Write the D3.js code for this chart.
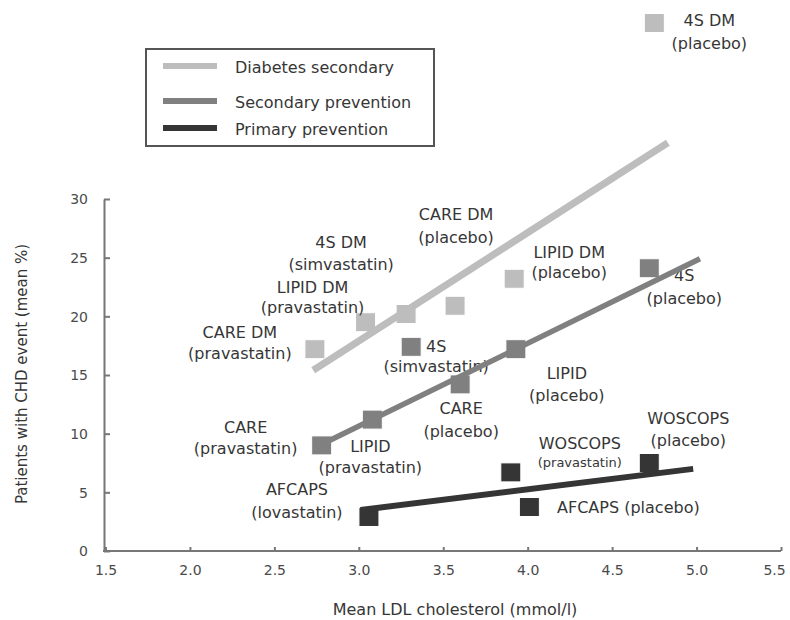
<!DOCTYPE html>
<html>
<head>
<meta charset="utf-8">
<script src="https://cdn.jsdelivr.net/npm/d3@7"></script>
<style>
  body { margin: 0; background: #fff; }
  svg { display: block; font-family: "DejaVu Sans", sans-serif; }
</style>
</head>
<body>
<svg id="chart" width="790" height="620"></svg>
<script>
// trial arms, one entry per square
var trialNames = ["CARE DM", "LIPID DM", "4S DM", "CARE DM", "LIPID DM", "4S DM",
                  "CARE", "LIPID", "CARE", "4S", "LIPID", "4S",
                  "AFCAPS", "WOSCOPS", "AFCAPS", "WOSCOPS"];
var trialArms = ["(pravastatin)", "(pravastatin)", "(simvastatin)", "(placebo)", "(placebo)", "(placebo)",
                 "(pravastatin)", "(pravastatin)", "(placebo)", "(simvastatin)", "(placebo)", "(placebo)",
                 "(lovastatin)", "(pravastatin)", "(placebo)", "(placebo)"];
var trialGroup = [0, 0, 0, 0, 0, 0, 1, 1, 1, 1, 1, 1, 2, 2, 2, 2];
var ldlValues = [2.74, 3.04, 3.28, 3.57, 3.92, 4.75,
                 2.78, 3.08, 3.60, 3.31, 3.93, 4.72,
                 3.06, 3.90, 4.01, 4.72];
var chdValues = [17.2, 19.5, 20.2, 20.9, 23.2, 45.0,
                 9.0, 11.2, 14.2, 17.4, 17.2, 24.1,
                 2.9, 6.7, 3.75, 7.5];

// fitted lines per group
var groupNames = ["Diabetes secondary", "Secondary prevention", "Primary prevention"];
var fitLdlStart = [2.73, 2.76, 3.01];
var fitLdlEnd = [4.83, 5.02, 4.98];
var fitChdStart = [15.4, 8.95, 3.5];
var fitChdEnd = [34.8, 24.9, 7.0];

var xTicks = [1.5, 2.0, 2.5, 3.0, 3.5, 4.0, 4.5, 5.0, 5.5];
var yTicks = [0, 5, 10, 15, 20, 25, 30];

// styles
var groupColors = ["#bdbdbd", "#808080", "#353535"];
var groupWidths = [7, 5.5, 6];
var textColor = "#363636";

// label placement: center offset from the square (px), second line offset, single line flag
var labelLayout = [
  {dx: -75, dy1: -17, dy2: 4},
  {dx: -53, dy1: -35, dy2: -15},
  {dx: -65, dy1: -71, dy2: -49},
  {dx: 1, dy1: -91, dy2: -68},
  {dx: 55, dy1: -26, dy2: -6},
  {dx: 55, dy1: -3, dy2: 20},
  {dx: -76, dy1: -18, dy2: 3},
  {dx: -2, dy1: 27, dy2: 48},
  {dx: 1, dy1: 24, dy2: 47},
  {dx: 25, dy1: 0, dy2: 20},
  {dx: 51, dy1: 24, dy2: 46},
  {dx: 35, dy1: 7, dy2: 30},
  {dx: -72, dy1: -27, dy2: -4},
  {dx: 69, dy1: -29, dy2: -10, small: true},
  {dx: 99, dy1: 0, single: true},
  {dx: 39, dy1: -45, dy2: -23}
];

var svg = d3.select("#chart");

var x = d3.scaleLinear().domain([1.5, 5.5]).range([105.5, 781]);
var y = d3.scaleLinear().domain([0, 30]).range([551, 199]);

// axes
var xAxis = svg.append("g")
  .attr("transform", "translate(0,551)")
  .call(d3.axisBottom(x).tickValues(xTicks).tickFormat(d3.format(".1f")).tickSizeInner(-4).tickSizeOuter(0));
var yAxis = svg.append("g")
  .attr("transform", "translate(104,0)")
  .call(d3.axisLeft(y).tickValues(yTicks).tickSizeInner(-6).tickSizeOuter(0));

[xAxis, yAxis].forEach(function(ax) {
  ax.select(".domain").attr("stroke", "#777").attr("stroke-width", 2);
  ax.selectAll(".tick line").attr("stroke", "#777").attr("stroke-width", 2);
  ax.selectAll(".tick text").attr("fill", "#4a4a4a").style("font-size", "14px").style("font-family", "DejaVu Sans");
});
xAxis.select(".domain").attr("d", "M103,0H781");
xAxis.selectAll(".tick text").attr("y", 19).attr("dy", "0.35em")
  .attr("dx", function(d) { return d === 5.5 ? -7 : 0; });
yAxis.selectAll(".tick text").attr("x", -16).attr("dy", "0.35em");

svg.append("text")
  .attr("x", 455).attr("y", 609)
  .attr("text-anchor", "middle").attr("dominant-baseline", "central")
  .attr("fill", textColor).style("font-size", "16px")
  .text("Mean LDL cholesterol (mmol/l)");

svg.append("text")
  .attr("transform", "translate(22,374) rotate(-90)")
  .attr("text-anchor", "middle").attr("dominant-baseline", "central")
  .attr("fill", textColor).style("font-size", "15px")
  .text("Patients with CHD event (mean %)");

// squares
var idx = d3.range(ldlValues.length);
svg.append("g").selectAll("rect")
  .data(idx)
  .enter().append("rect")
  .attr("x", function(i) { return x(ldlValues[i]) - 10; })
  .attr("y", function(i) { return y(chdValues[i]) - 9.5; })
  .attr("width", 20)
  .attr("height", 19)
  .attr("fill", function(i) { return groupColors[trialGroup[i]]; })
  .attr("stroke", "#fff")
  .attr("stroke-width", 1);

// labels
var labels = svg.append("g").attr("fill", textColor).style("font-size", "16px")
  .attr("text-anchor", "middle");
idx.forEach(function(i) {
  var L = labelLayout[i];
  var cx = x(ldlValues[i]) + L.dx;
  var cy = y(chdValues[i]);
  if (L.single) {
    labels.append("text").attr("x", cx).attr("y", cy + L.dy1)
      .attr("dominant-baseline", "central")
      .text(trialNames[i] + " " + trialArms[i]);
    return;
  }
  labels.append("text").attr("x", cx).attr("y", cy + L.dy1)
    .attr("dominant-baseline", "central").text(trialNames[i]);
  labels.append("text").attr("x", cx).attr("y", cy + L.dy2)
    .attr("dominant-baseline", "central")
    .style("font-size", L.small ? "13px" : null)
    .text(trialArms[i]);
});

// fitted lines
svg.append("g").selectAll("line")
  .data(d3.range(groupNames.length))
  .enter().append("line")
  .attr("x1", function(g) { return x(fitLdlStart[g]); })
  .attr("y1", function(g) { return y(fitChdStart[g]); })
  .attr("x2", function(g) { return x(fitLdlEnd[g]); })
  .attr("y2", function(g) { return y(fitChdEnd[g]); })
  .attr("stroke", function(g) { return groupColors[g]; })
  .attr("stroke-width", function(g) { return groupWidths[g]; });

// legend
var legend = svg.append("g");
legend.append("rect")
  .attr("x", 146).attr("y", 49).attr("width", 288).attr("height", 97)
  .attr("fill", "none").attr("stroke", "#555").attr("stroke-width", 2);
var legendY = [66, 101, 128];
groupNames.forEach(function(name, g) {
  legend.append("line")
    .attr("x1", 163).attr("x2", 217)
    .attr("y1", legendY[g]).attr("y2", legendY[g])
    .attr("stroke", groupColors[g]).attr("stroke-width", 6);
  legend.append("text")
    .attr("x", 235).attr("y", legendY[g] + 1)
    .attr("dominant-baseline", "central")
    .attr("fill", textColor).style("font-size", "16px")
    .text(name);
});
</script>
</body>
</html>
